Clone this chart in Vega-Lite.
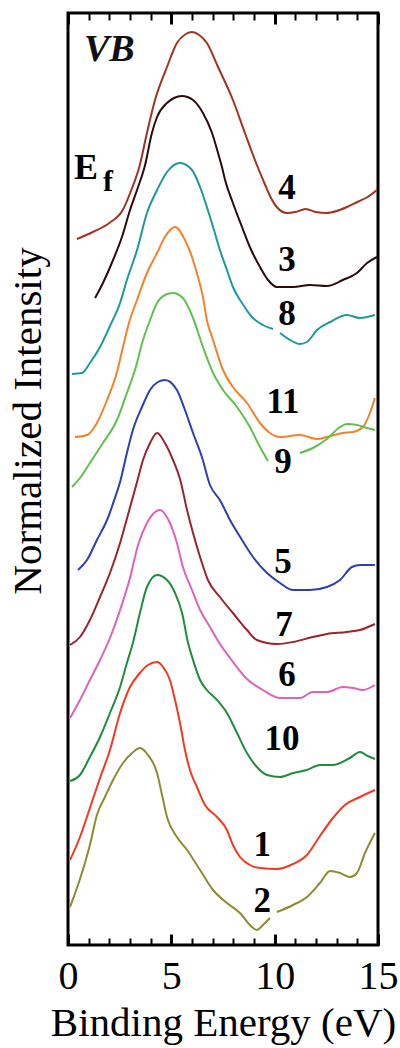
{
  "$schema": "https://vega.github.io/schema/vega-lite/v6.json",
  "width": 310,
  "height": 932,
  "autosize": "none",
  "padding": {"left": 68, "top": 13, "right": 22, "bottom": 103},
  "background": "white",
  "config": {"view": {"stroke": "black", "strokeWidth": 3}, "font": "Liberation Serif, Times New Roman, serif"},
  "title": {"text": "Normalized Intensity", "orient": "left", "anchor": "middle", "font": "Liberation Serif, Times New Roman, serif", "fontSize": 41, "fontWeight": "normal", "color": "black", "baseline": "alphabetic", "offset": 16, "dx": 58, "dy": 48},
  "datasets": {
    "curves": [
      {"c":"4","s":0,"E":0.43,"I":706},{"c":"4","s":0,"E":1.2,"I":713},{"c":"4","s":0,"E":2.0,"I":722},{"c":"4","s":0,"E":2.65,"I":735},{"c":"4","s":0,"E":3.1,"I":757},{"c":"4","s":0,"E":3.45,"I":778},{"c":"4","s":0,"E":3.82,"I":812},{"c":"4","s":0,"E":4.21,"I":845},{"c":"4","s":0,"E":4.79,"I":878},{"c":"4","s":0,"E":5.27,"I":902},{"c":"4","s":0,"E":5.7,"I":911},{"c":"4","s":0,"E":6.0,"I":913},{"c":"4","s":0,"E":6.35,"I":910},{"c":"4","s":0,"E":6.72,"I":902},{"c":"4","s":0,"E":7.26,"I":878},{"c":"4","s":0,"E":7.98,"I":845},{"c":"4","s":0,"E":8.56,"I":812},{"c":"4","s":0,"E":9.14,"I":780},{"c":"4","s":0,"E":9.5,"I":762},{"c":"4","s":0,"E":9.75,"I":750},{"c":"4","s":0,"E":10.1,"I":738},{"c":"4","s":0,"E":10.6,"I":732},{"c":"4","s":0,"E":11.0,"I":733},{"c":"4","s":0,"E":11.5,"I":736},{"c":"4","s":0,"E":12.0,"I":733},{"c":"4","s":0,"E":12.5,"I":732},{"c":"4","s":0,"E":13.0,"I":734},{"c":"4","s":0,"E":13.5,"I":738},{"c":"4","s":0,"E":14.0,"I":743},{"c":"4","s":0,"E":14.5,"I":748},{"c":"4","s":0,"E":14.95,"I":755},
      {"c":"3","s":0,"E":1.31,"I":647},{"c":"3","s":0,"E":1.69,"I":662},{"c":"3","s":0,"E":2.18,"I":685},{"c":"3","s":0,"E":2.61,"I":708},{"c":"3","s":0,"E":3.0,"I":735},{"c":"3","s":0,"E":3.34,"I":755},{"c":"3","s":0,"E":3.73,"I":780},{"c":"3","s":0,"E":4.06,"I":812},{"c":"3","s":0,"E":4.31,"I":828},{"c":"3","s":0,"E":4.79,"I":842},{"c":"3","s":0,"E":5.13,"I":847},{"c":"3","s":0,"E":5.52,"I":849},{"c":"3","s":0,"E":6.05,"I":845},{"c":"3","s":0,"E":6.53,"I":832},{"c":"3","s":0,"E":6.97,"I":812},{"c":"3","s":0,"E":7.26,"I":792},{"c":"3","s":0,"E":7.45,"I":778},{"c":"3","s":0,"E":7.6,"I":765},{"c":"3","s":0,"E":7.98,"I":742},{"c":"3","s":0,"E":8.42,"I":718},{"c":"3","s":0,"E":8.8,"I":698},{"c":"3","s":0,"E":9.29,"I":678},{"c":"3","s":0,"E":9.68,"I":665},{"c":"3","s":0,"E":10.11,"I":658},{"c":"3","s":0,"E":10.89,"I":658},{"c":"3","s":0,"E":11.71,"I":660},{"c":"3","s":0,"E":12.53,"I":659},{"c":"3","s":0,"E":13.3,"I":665},{"c":"3","s":0,"E":13.98,"I":672},{"c":"3","s":0,"E":14.47,"I":682},{"c":"3","s":0,"E":14.95,"I":688},
      {"c":"8","s":0,"E":0.19,"I":571},{"c":"8","s":0,"E":0.68,"I":572},{"c":"8","s":0,"E":1.06,"I":582},{"c":"8","s":0,"E":1.55,"I":598},{"c":"8","s":0,"E":2.03,"I":619},{"c":"8","s":0,"E":2.52,"I":642},{"c":"8","s":0,"E":2.85,"I":665},{"c":"8","s":0,"E":3.34,"I":695},{"c":"8","s":0,"E":3.82,"I":732},{"c":"8","s":0,"E":4.31,"I":755},{"c":"8","s":0,"E":4.79,"I":773},{"c":"8","s":0,"E":5.42,"I":782},{"c":"8","s":0,"E":6.0,"I":775},{"c":"8","s":0,"E":6.39,"I":758},{"c":"8","s":0,"E":6.72,"I":738},{"c":"8","s":0,"E":7.02,"I":718},{"c":"8","s":0,"E":7.35,"I":695},{"c":"8","s":0,"E":7.69,"I":675},{"c":"8","s":0,"E":7.98,"I":658},{"c":"8","s":0,"E":8.42,"I":642},{"c":"8","s":0,"E":8.9,"I":628},{"c":"8","s":0,"E":9.43,"I":620},{"c":"8","s":0,"E":9.92,"I":616},
      {"c":"8","s":1,"E":10.26,"I":612},{"c":"8","s":1,"E":10.74,"I":605},{"c":"8","s":1,"E":11.22,"I":601},{"c":"8","s":1,"E":11.56,"I":603},{"c":"8","s":1,"E":12.05,"I":615},{"c":"8","s":1,"E":12.68,"I":623},{"c":"8","s":1,"E":13.5,"I":630},{"c":"8","s":1,"E":14.13,"I":627},{"c":"8","s":1,"E":14.85,"I":630},
      {"c":"11","s":0,"E":0.34,"I":508},{"c":"11","s":0,"E":0.92,"I":510},{"c":"11","s":0,"E":1.4,"I":522},{"c":"11","s":0,"E":1.89,"I":545},{"c":"11","s":0,"E":2.37,"I":573},{"c":"11","s":0,"E":2.66,"I":598},{"c":"11","s":0,"E":2.95,"I":622},{"c":"11","s":0,"E":3.34,"I":645},{"c":"11","s":0,"E":3.82,"I":672},{"c":"11","s":0,"E":4.31,"I":692},{"c":"11","s":0,"E":4.69,"I":708},{"c":"11","s":0,"E":5.18,"I":718},{"c":"11","s":0,"E":5.66,"I":705},{"c":"11","s":0,"E":6.0,"I":688},{"c":"11","s":0,"E":6.29,"I":668},{"c":"11","s":0,"E":6.53,"I":648},{"c":"11","s":0,"E":6.72,"I":625},{"c":"11","s":0,"E":7.02,"I":605},{"c":"11","s":0,"E":7.5,"I":575},{"c":"11","s":0,"E":7.98,"I":558},{"c":"11","s":0,"E":8.66,"I":542},{"c":"11","s":0,"E":9.29,"I":522},{"c":"11","s":0,"E":9.77,"I":512},{"c":"11","s":0,"E":10.26,"I":508},{"c":"11","s":0,"E":11.22,"I":510},{"c":"11","s":0,"E":12.05,"I":506},{"c":"11","s":0,"E":12.53,"I":508},{"c":"11","s":0,"E":13.3,"I":512},{"c":"11","s":0,"E":13.79,"I":513},{"c":"11","s":0,"E":14.27,"I":518},{"c":"11","s":0,"E":14.61,"I":532},{"c":"11","s":0,"E":14.85,"I":547},
      {"c":"9","s":0,"E":0.19,"I":458},{"c":"9","s":0,"E":0.58,"I":467},{"c":"9","s":0,"E":1.06,"I":482},{"c":"9","s":0,"E":1.69,"I":502},{"c":"9","s":0,"E":2.37,"I":525},{"c":"9","s":0,"E":2.85,"I":552},{"c":"9","s":0,"E":3.24,"I":575},{"c":"9","s":0,"E":3.63,"I":605},{"c":"9","s":0,"E":3.97,"I":625},{"c":"9","s":0,"E":4.31,"I":642},{"c":"9","s":0,"E":4.69,"I":650},{"c":"9","s":0,"E":5.08,"I":652},{"c":"9","s":0,"E":5.56,"I":647},{"c":"9","s":0,"E":6.05,"I":627},{"c":"9","s":0,"E":6.53,"I":598},{"c":"9","s":0,"E":7.02,"I":572},{"c":"9","s":0,"E":7.5,"I":555},{"c":"9","s":0,"E":8.18,"I":538},{"c":"9","s":0,"E":8.8,"I":518},{"c":"9","s":0,"E":9.29,"I":498},{"c":"9","s":0,"E":9.68,"I":484},
      {"c":"9","s":1,"E":11.22,"I":492},{"c":"9","s":1,"E":11.85,"I":497},{"c":"9","s":1,"E":12.53,"I":506},{"c":"9","s":1,"E":13.16,"I":518},{"c":"9","s":1,"E":13.5,"I":521},{"c":"9","s":1,"E":13.98,"I":520},{"c":"9","s":1,"E":14.47,"I":517},{"c":"9","s":1,"E":14.85,"I":515},
      {"c":"5","s":0,"E":0.48,"I":375},{"c":"5","s":0,"E":0.92,"I":385},{"c":"5","s":0,"E":1.4,"I":405},{"c":"5","s":0,"E":1.89,"I":425},{"c":"5","s":0,"E":2.27,"I":447},{"c":"5","s":0,"E":2.52,"I":463},{"c":"5","s":0,"E":2.85,"I":492},{"c":"5","s":0,"E":3.14,"I":515},{"c":"5","s":0,"E":3.58,"I":538},{"c":"5","s":0,"E":3.97,"I":555},{"c":"5","s":0,"E":4.35,"I":563},{"c":"5","s":0,"E":4.69,"I":565},{"c":"5","s":0,"E":5.27,"I":555},{"c":"5","s":0,"E":5.66,"I":535},{"c":"5","s":0,"E":6.05,"I":512},{"c":"5","s":0,"E":6.48,"I":488},{"c":"5","s":0,"E":6.87,"I":460},{"c":"5","s":0,"E":7.35,"I":445},{"c":"5","s":0,"E":7.84,"I":425},{"c":"5","s":0,"E":8.42,"I":405},{"c":"5","s":0,"E":8.95,"I":388},{"c":"5","s":0,"E":9.63,"I":372},{"c":"5","s":0,"E":10.26,"I":362},{"c":"5","s":0,"E":10.89,"I":355},{"c":"5","s":0,"E":11.71,"I":355},{"c":"5","s":0,"E":12.53,"I":358},{"c":"5","s":0,"E":13.16,"I":365},{"c":"5","s":0,"E":13.74,"I":378},{"c":"5","s":0,"E":14.13,"I":380},{"c":"5","s":0,"E":14.85,"I":380},
      {"c":"7","s":0,"E":0.1,"I":300},{"c":"7","s":0,"E":0.58,"I":308},{"c":"7","s":0,"E":1.06,"I":325},{"c":"7","s":0,"E":1.55,"I":348},{"c":"7","s":0,"E":2.03,"I":372},{"c":"7","s":0,"E":2.52,"I":402},{"c":"7","s":0,"E":2.9,"I":430},{"c":"7","s":0,"E":3.34,"I":463},{"c":"7","s":0,"E":3.63,"I":485},{"c":"7","s":0,"E":3.97,"I":502},{"c":"7","s":0,"E":4.31,"I":512},{"c":"7","s":0,"E":4.69,"I":502},{"c":"7","s":0,"E":5.08,"I":485},{"c":"7","s":0,"E":5.42,"I":466},{"c":"7","s":0,"E":5.76,"I":435},{"c":"7","s":0,"E":6.05,"I":412},{"c":"7","s":0,"E":6.39,"I":388},{"c":"7","s":0,"E":6.77,"I":365},{"c":"7","s":0,"E":7.35,"I":348},{"c":"7","s":0,"E":7.98,"I":332},{"c":"7","s":0,"E":8.66,"I":315},{"c":"7","s":0,"E":9.14,"I":305},{"c":"7","s":0,"E":10.11,"I":301},{"c":"7","s":0,"E":10.89,"I":303},{"c":"7","s":0,"E":11.85,"I":308},{"c":"7","s":0,"E":12.53,"I":311},{"c":"7","s":0,"E":13.5,"I":313},{"c":"7","s":0,"E":14.13,"I":315},{"c":"7","s":0,"E":14.85,"I":321},
      {"c":"6","s":0,"E":0.1,"I":227},{"c":"6","s":0,"E":0.58,"I":245},{"c":"6","s":0,"E":1.06,"I":265},{"c":"6","s":0,"E":1.55,"I":285},{"c":"6","s":0,"E":2.03,"I":307},{"c":"6","s":0,"E":2.52,"I":335},{"c":"6","s":0,"E":3.0,"I":367},{"c":"6","s":0,"E":3.39,"I":400},{"c":"6","s":0,"E":3.82,"I":422},{"c":"6","s":0,"E":4.11,"I":431},{"c":"6","s":0,"E":4.45,"I":435},{"c":"6","s":0,"E":4.93,"I":422},{"c":"6","s":0,"E":5.27,"I":402},{"c":"6","s":0,"E":5.56,"I":378},{"c":"6","s":0,"E":6.0,"I":355},{"c":"6","s":0,"E":6.39,"I":335},{"c":"6","s":0,"E":6.87,"I":318},{"c":"6","s":0,"E":7.26,"I":304},{"c":"6","s":0,"E":7.84,"I":287},{"c":"6","s":0,"E":8.66,"I":266},{"c":"6","s":0,"E":9.43,"I":255},{"c":"6","s":0,"E":10.26,"I":247},{"c":"6","s":0,"E":11.22,"I":247},{"c":"6","s":0,"E":11.85,"I":253},{"c":"6","s":0,"E":12.53,"I":253},{"c":"6","s":0,"E":13.3,"I":258},{"c":"6","s":0,"E":13.79,"I":257},{"c":"6","s":0,"E":14.27,"I":255},{"c":"6","s":0,"E":14.85,"I":260},
      {"c":"10","s":0,"E":0.1,"I":164},{"c":"10","s":0,"E":0.58,"I":170},{"c":"10","s":0,"E":1.06,"I":188},{"c":"10","s":0,"E":1.55,"I":208},{"c":"10","s":0,"E":2.03,"I":232},{"c":"10","s":0,"E":2.52,"I":258},{"c":"10","s":0,"E":2.85,"I":282},{"c":"10","s":0,"E":3.14,"I":302},{"c":"10","s":0,"E":3.48,"I":332},{"c":"10","s":0,"E":3.82,"I":358},{"c":"10","s":0,"E":4.31,"I":370},{"c":"10","s":0,"E":4.79,"I":365},{"c":"10","s":0,"E":5.18,"I":352},{"c":"10","s":0,"E":5.52,"I":332},{"c":"10","s":0,"E":5.81,"I":302},{"c":"10","s":0,"E":6.05,"I":285},{"c":"10","s":0,"E":6.39,"I":265},{"c":"10","s":0,"E":6.72,"I":255},{"c":"10","s":0,"E":7.21,"I":245},{"c":"10","s":0,"E":7.69,"I":232},{"c":"10","s":0,"E":8.18,"I":212},{"c":"10","s":0,"E":8.66,"I":192},{"c":"10","s":0,"E":9.14,"I":178},{"c":"10","s":0,"E":9.63,"I":170},{"c":"10","s":0,"E":10.26,"I":168},{"c":"10","s":0,"E":10.89,"I":172},{"c":"10","s":0,"E":11.56,"I":175},{"c":"10","s":0,"E":12.19,"I":180},{"c":"10","s":0,"E":12.82,"I":180},{"c":"10","s":0,"E":13.64,"I":187},{"c":"10","s":0,"E":14.13,"I":193},{"c":"10","s":0,"E":14.5,"I":189},{"c":"10","s":0,"E":14.85,"I":186},
      {"c":"1","s":0,"E":0.1,"I":85},{"c":"1","s":0,"E":0.58,"I":108},{"c":"1","s":0,"E":1.06,"I":137},{"c":"1","s":0,"E":1.55,"I":167},{"c":"1","s":0,"E":2.03,"I":195},{"c":"1","s":0,"E":2.52,"I":232},{"c":"1","s":0,"E":3.0,"I":258},{"c":"1","s":0,"E":3.48,"I":272},{"c":"1","s":0,"E":3.87,"I":280},{"c":"1","s":0,"E":4.31,"I":283},{"c":"1","s":0,"E":4.6,"I":278},{"c":"1","s":0,"E":4.93,"I":265},{"c":"1","s":0,"E":5.18,"I":245},{"c":"1","s":0,"E":5.42,"I":222},{"c":"1","s":0,"E":5.66,"I":195},{"c":"1","s":0,"E":5.9,"I":175},{"c":"1","s":0,"E":6.24,"I":158},{"c":"1","s":0,"E":6.63,"I":140},{"c":"1","s":0,"E":7.21,"I":128},{"c":"1","s":0,"E":7.69,"I":115},{"c":"1","s":0,"E":7.98,"I":100},{"c":"1","s":0,"E":8.32,"I":88},{"c":"1","s":0,"E":8.8,"I":80},{"c":"1","s":0,"E":9.29,"I":77},{"c":"1","s":0,"E":10.11,"I":76},{"c":"1","s":0,"E":10.89,"I":81},{"c":"1","s":0,"E":11.56,"I":90},{"c":"1","s":0,"E":12.19,"I":109},{"c":"1","s":0,"E":12.82,"I":127},{"c":"1","s":0,"E":13.4,"I":140},{"c":"1","s":0,"E":14.13,"I":148},{"c":"1","s":0,"E":14.85,"I":155},
      {"c":"2","s":0,"E":0.1,"I":38},{"c":"2","s":0,"E":0.58,"I":66},{"c":"2","s":0,"E":1.06,"I":100},{"c":"2","s":0,"E":1.4,"I":130},{"c":"2","s":0,"E":1.79,"I":148},{"c":"2","s":0,"E":2.18,"I":165},{"c":"2","s":0,"E":2.66,"I":182},{"c":"2","s":0,"E":3.1,"I":192},{"c":"2","s":0,"E":3.48,"I":197},{"c":"2","s":0,"E":3.87,"I":190},{"c":"2","s":0,"E":4.31,"I":172},{"c":"2","s":0,"E":4.55,"I":150},{"c":"2","s":0,"E":4.79,"I":128},{"c":"2","s":0,"E":5.27,"I":108},{"c":"2","s":0,"E":5.76,"I":95},{"c":"2","s":0,"E":6.39,"I":75},{"c":"2","s":0,"E":7.02,"I":55},{"c":"2","s":0,"E":7.69,"I":42},{"c":"2","s":0,"E":8.32,"I":32},{"c":"2","s":0,"E":8.9,"I":18},{"c":"2","s":0,"E":9.14,"I":15},{"c":"2","s":0,"E":9.43,"I":20},{"c":"2","s":0,"E":9.77,"I":27},
      {"c":"2","s":1,"E":10.11,"I":33},{"c":"2","s":1,"E":10.89,"I":40},{"c":"2","s":1,"E":11.56,"I":48},{"c":"2","s":1,"E":12.19,"I":62},{"c":"2","s":1,"E":12.68,"I":74},{"c":"2","s":1,"E":13.16,"I":72},{"c":"2","s":1,"E":13.64,"I":68},{"c":"2","s":1,"E":13.98,"I":72},{"c":"2","s":1,"E":14.37,"I":92},{"c":"2","s":1,"E":14.85,"I":112}
    ],
    "labels": [
      {"t":"4","E":10.6,"I":757},{"t":"3","E":10.6,"I":685},{"t":"8","E":10.6,"I":631},{"t":"11","E":10.4,"I":543},{"t":"9","E":10.4,"I":483},{"t":"5","E":10.4,"I":383},{"t":"7","E":10.45,"I":320},{"t":"6","E":10.6,"I":270},{"t":"10","E":10.35,"I":206},{"t":"1","E":9.4,"I":100},{"t":"2","E":9.4,"I":44}
    ]
  },
  "layer": [
    {
      "data": {"name": "curves"},
      "mark": {"type": "line", "strokeWidth": 2, "interpolate": "monotone"},
      "encoding": {
        "x": {"field": "E", "type": "quantitative", "scale": {"domain": [0, 15], "nice": false, "zero": false},
          "axis": {"orient": "bottom", "values": [0,1,2,3,4,5,6,7,8,9,10,11,12,13,14,15], "tickSize": -7, "tickWidth": 2, "tickColor": "black", "domain": false, "grid": false,
            "labelExpr": "datum.value % 5 === 0 ? datum.label : ''", "labelFont": "Liberation Serif, Times New Roman, serif", "labelFontSize": 40, "labelColor": "black", "labelBaseline": "alphabetic", "labelPadding": 50, "labelFlush": false, "labelOverlap": false,
            "title": "Binding Energy (eV)", "titleFont": "Liberation Serif, Times New Roman, serif", "titleFontSize": 41, "titleFontWeight": "normal", "titleColor": "black", "titleY": 90, "titleBaseline": "alphabetic"}},
        "y": {"field": "I", "type": "quantitative", "scale": {"domain": [0, 932], "nice": false, "zero": false}, "axis": null},
        "color": {"field": "c", "type": "nominal", "legend": null,
          "scale": {"domain": ["4","3","8","11","9","5","7","6","10","1","2"],
                    "range": ["#a3321f","#2a0c0c","#1c9a9b","#f5822a","#62c04f","#2c40b3","#9a2333","#e062b6","#1f8c3e","#f03a22","#8d8b32"]}},
        "detail": {"field": "s"}
      }
    },
    {
      "data": {"name": "labels"},
      "mark": {"type": "text", "font": "Liberation Serif, Times New Roman, serif", "fontSize": 35, "fontWeight": "bold", "align": "center", "baseline": "middle", "color": "black"},
      "encoding": {
        "x": {"field": "E", "type": "quantitative", "scale": {"domain": [0, 15], "nice": false, "zero": false},
          "axis": {"orient": "bottom", "values": [0, 5, 10, 15], "tickSize": -11, "tickWidth": 3, "tickColor": "black", "labels": false, "domain": false, "grid": false, "title": null}},
        "y": {"field": "I", "type": "quantitative", "scale": {"domain": [0, 932], "nice": false, "zero": false}, "axis": null},
        "text": {"field": "t"}
      }
    },
    {
      "data": {"values": [{"t": "VB", "E": 2.0, "I": 895}]},
      "mark": {"type": "text", "font": "Liberation Serif, Times New Roman, serif", "fontSize": 38, "fontWeight": "bold", "fontStyle": "italic", "align": "center", "baseline": "middle", "color": "#111111"},
      "encoding": {
        "x": {"field": "E", "type": "quantitative", "scale": {"domain": [0, 15], "nice": false, "zero": false},
          "axis": {"orient": "top", "values": [0,1,2,3,4,5,6,7,8,9,10,11,12,13,14,15], "tickSize": -7, "tickWidth": 2, "tickColor": "black", "labels": false, "domain": false, "grid": false, "title": null}},
        "y": {"field": "I", "type": "quantitative", "scale": {"domain": [0, 932], "nice": false, "zero": false}, "axis": null},
        "text": {"field": "t"}
      }
    },
    {
      "data": {"values": [{"t": "E", "E": 0.87, "I": 777}]},
      "mark": {"type": "text", "font": "Liberation Serif, Times New Roman, serif", "fontSize": 36, "fontWeight": "bold", "align": "center", "baseline": "middle", "color": "black"},
      "encoding": {
        "x": {"field": "E", "type": "quantitative", "scale": {"domain": [0, 15], "nice": false, "zero": false},
          "axis": {"orient": "top", "values": [0, 5, 10, 15], "tickSize": -11, "tickWidth": 3, "tickColor": "black", "labels": false, "domain": false, "grid": false, "title": null}},
        "y": {"field": "I", "type": "quantitative", "scale": {"domain": [0, 932], "nice": false, "zero": false}, "axis": null},
        "text": {"field": "t"}
      }
    },
    {
      "data": {"values": [{"t": "f", "E": 1.94, "I": 763}]},
      "mark": {"type": "text", "font": "Liberation Serif, Times New Roman, serif", "fontSize": 30, "fontWeight": "bold", "align": "center", "baseline": "middle", "color": "black"},
      "encoding": {
        "x": {"field": "E", "type": "quantitative", "scale": {"domain": [0, 15], "nice": false, "zero": false}, "axis": null},
        "y": {"field": "I", "type": "quantitative", "scale": {"domain": [0, 932], "nice": false, "zero": false}, "axis": null},
        "text": {"field": "t"}
      }
    }
  ],
  "resolve": {"axis": {"x": "independent"}}
}
